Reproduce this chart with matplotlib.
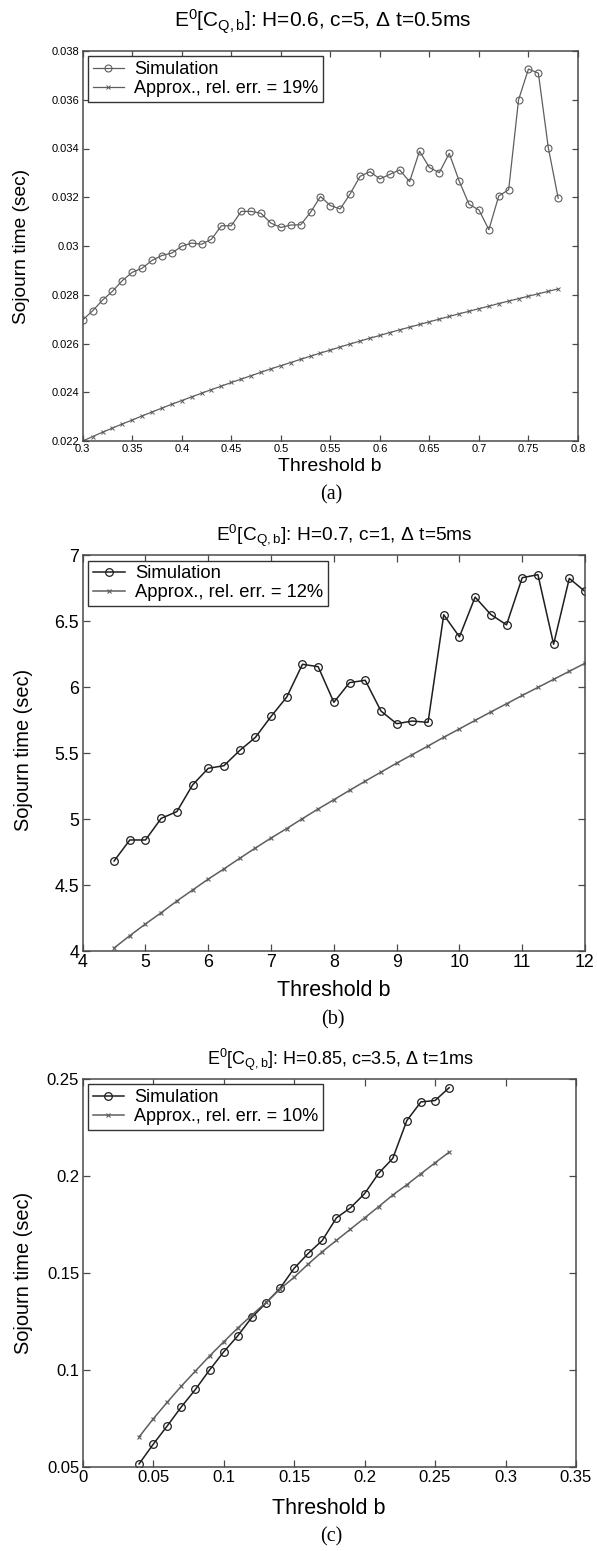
import numpy as np
import matplotlib
matplotlib.use("Agg")
import matplotlib.pyplot as plt
from matplotlib.ticker import FormatStrFormatter

plt.rcParams['font.family'] = ['Liberation Sans', 'DejaVu Sans']
plt.rcParams['mathtext.fontset'] = 'custom'
plt.rcParams['mathtext.rm'] = 'Liberation Sans'
plt.rcParams['mathtext.it'] = 'Liberation Sans'
plt.rcParams['mathtext.bf'] = 'Liberation Sans'

# ---- panel (a): H=0.6, c=5, dt=0.5ms
b_a = np.round(np.arange(0.30, 0.785, 0.01), 2)
sim_a = [0.02697, 0.02734, 0.02778, 0.02814, 0.02858, 0.02892, 0.02909, 0.02941,
         0.02961, 0.02971, 0.02999, 0.03012, 0.03007, 0.03028, 0.03083, 0.03083,
         0.03142, 0.03142, 0.03134, 0.03094, 0.03076, 0.03086, 0.03087, 0.03138,
         0.03203, 0.03166, 0.03152, 0.03214, 0.03286, 0.03305, 0.03275, 0.03294,
         0.03312, 0.03264, 0.03389, 0.03322, 0.03301, 0.03380, 0.03267, 0.03171,
         0.03148, 0.03067, 0.03205, 0.03231, 0.03600, 0.03726, 0.03709, 0.03404,
         0.03196]
approx_a = [0.02200, 0.02218, 0.02236, 0.02253, 0.02270, 0.02286, 0.02303, 0.02319,
            0.02335, 0.02351, 0.02366, 0.02381, 0.02396, 0.02411, 0.02425, 0.02440,
            0.02454, 0.02468, 0.02482, 0.02496, 0.02509, 0.02522, 0.02535, 0.02548,
            0.02561, 0.02573, 0.02586, 0.02598, 0.02610, 0.02622, 0.02633, 0.02645,
            0.02656, 0.02667, 0.02678, 0.02689, 0.02700, 0.02711, 0.02722, 0.02732,
            0.02743, 0.02753, 0.02764, 0.02774, 0.02784, 0.02794, 0.02804, 0.02814,
            0.02824]

# ---- panel (b): H=0.7, c=1, dt=5ms
b_b = np.arange(4.5, 12.01, 0.25)
sim_b = [4.682, 4.841, 4.841, 5.005, 5.056, 5.258, 5.384, 5.404, 5.519, 5.618,
         5.777, 5.924, 6.172, 6.154, 5.884, 6.033, 6.051, 5.818, 5.722, 5.742,
         5.732, 6.547, 6.380, 6.681, 6.549, 6.471, 6.828, 6.851, 6.324, 6.823,
         6.724]
approx_b = [4.023, 4.116, 4.205, 4.290, 4.379, 4.462, 4.545, 4.622, 4.702, 4.780,
            4.856, 4.928, 5.003, 5.076, 5.146, 5.217, 5.287, 5.355, 5.423, 5.488,
            5.553, 5.619, 5.683, 5.747, 5.811, 5.873, 5.936, 5.997, 6.058, 6.119,
            6.180]

# ---- panel (c): H=0.85, c=3.5, dt=1ms
b_c = np.round(np.arange(0.04, 0.265, 0.01), 2)
sim_c = [0.0516, 0.0617, 0.0712, 0.0810, 0.0900, 0.1000, 0.1093, 0.1176, 0.1271,
         0.1345, 0.1421, 0.1524, 0.1601, 0.1668, 0.1784, 0.1836, 0.1909, 0.2014,
         0.2091, 0.2286, 0.2382, 0.2389, 0.2455]
approx_c = [0.0655, 0.0748, 0.0834, 0.0917, 0.0995, 0.1072, 0.1145, 0.1216, 0.1283,
            0.1348, 0.1417, 0.1478, 0.1546, 0.1610, 0.1668, 0.1726, 0.1784, 0.1842,
            0.1902, 0.1955, 0.2012, 0.2068, 0.2123]

titles = [r'E$^{0}$[C$_{\mathrm{Q,b}}$]: H=0.6, c=5, $\Delta$ t=0.5ms',
          r'E$^{0}$[C$_{\mathrm{Q,b}}$]: H=0.7, c=1, $\Delta$ t=5ms',
          r'E$^{0}$[C$_{\mathrm{Q,b}}$]: H=0.85, c=3.5, $\Delta$ t=1ms']
rel_err = ['19%', '12%', '10%']
captions = ['(a)', '(b)', '(c)']

W, H = 597, 1551
fig = plt.figure(figsize=(W / 100, H / 100), dpi=100)

gray = '#5e5e5e'
dark = '#1e1e1e'


def px_axes(l, r, t, b):
    return fig.add_axes([l / W, 1 - b / H, (r - l) / W, (b - t) / H])


def ftext(x, y, s, **kw):
    # place text at pixel coords (y measured from top)
    return fig.text(x / W, 1 - y / H, s, **kw)


def style(ax, tick_size, tick_len):
    for s in ax.spines.values():
        s.set_color('#4a4a4a')
        s.set_linewidth(1.1)
    ax.tick_params(direction='in', top=True, right=True, length=tick_len,
                   width=0.9, color='#4a4a4a', labelsize=tick_size, pad=2.5)
    ax.xaxis.set_major_formatter(FormatStrFormatter('%g'))
    ax.yaxis.set_major_formatter(FormatStrFormatter('%g'))


def add_legend(ax, size):
    leg = ax.legend(loc='upper left', fontsize=size, fancybox=False, framealpha=1,
                    edgecolor='#333333', borderaxespad=0.3, handlelength=1.75,
                    borderpad=0.25, labelspacing=0.12, handletextpad=0.55)
    leg.get_frame().set_linewidth(1.0)


# panel (a)
ax = px_axes(82.7, 578, 51, 441)
ax.plot(b_a, sim_a, '-o', color=gray, lw=0.9, ms=5, mfc='none', mew=0.8,
        label='Simulation')
ax.plot(b_a, approx_a, '-x', color=gray, lw=0.9, ms=3, mew=0.7,
        label='Approx., rel. err. = ' + rel_err[0])
ax.set_xlim(0.3, 0.8)
ax.set_ylim(0.022, 0.038)
ax.set_xticks(np.arange(0.3, 0.801, 0.05))
ax.set_yticks(np.arange(0.022, 0.0381, 0.002))
style(ax, 8, 4)
add_legend(ax, 13)
ftext(323, 27, titles[0], ha='center', va='baseline', fontsize=15)
ftext(330, 458, 'Threshold b', ha='center', va='top', fontsize=14)
ftext(22, 246, 'Sojourn time (sec)', ha='center', va='center', rotation=90,
      fontsize=13.8)
ftext(331, 495, captions[0], ha='center', va='center', fontsize=14.5,
      family='Liberation Serif')

# panel (b)
ax = px_axes(82.7, 585, 555, 951)
ax.plot(b_b, sim_b, '-o', color=dark, lw=1.1, ms=5.5, mfc='none', mew=0.9,
        label='Simulation')
ax.plot(b_b, approx_b, '-x', color=gray, lw=1.1, ms=3.5, mew=0.8,
        label='Approx., rel. err. = ' + rel_err[1])
ax.set_xlim(4, 12)
ax.set_ylim(4, 7)
ax.set_xticks(np.arange(4, 12.1, 1))
ax.set_yticks(np.arange(4, 7.01, 0.5))
style(ax, 12.8, 5)
add_legend(ax, 13.2)
ftext(344, 541, titles[1], ha='center', va='baseline', fontsize=13.8)
ftext(334, 980, 'Threshold b', ha='center', va='top', fontsize=15.5)
ftext(24, 750, 'Sojourn time (sec)', ha='center', va='center', rotation=90,
      fontsize=14.4)
ftext(333, 1020, captions[1], ha='center', va='center', fontsize=14.5,
      family='Liberation Serif')

# panel (c)
ax = px_axes(82.7, 576, 1079, 1467)
ax.plot(b_c, sim_c, '-o', color=dark, lw=1.1, ms=5.5, mfc='none', mew=0.9,
        label='Simulation')
ax.plot(b_c, approx_c, '-x', color=gray, lw=1.1, ms=3.5, mew=0.8,
        label='Approx., rel. err. = ' + rel_err[2])
ax.set_xlim(0, 0.35)
ax.set_ylim(0.05, 0.25)
ax.set_xticks(np.arange(0, 0.351, 0.05))
ax.set_yticks(np.arange(0.05, 0.251, 0.05))
style(ax, 12, 5)
add_legend(ax, 13)
ftext(340, 1065, titles[2], ha='center', va='baseline', fontsize=13)
ftext(329, 1498, 'Threshold b', ha='center', va='top', fontsize=15.5)
ftext(24, 1273, 'Sojourn time (sec)', ha='center', va='center', rotation=90,
      fontsize=14.4)
ftext(331, 1537, captions[2], ha='center', va='center', fontsize=14.5,
      family='Liberation Serif')

fig.savefig('out.png', dpi=100)
